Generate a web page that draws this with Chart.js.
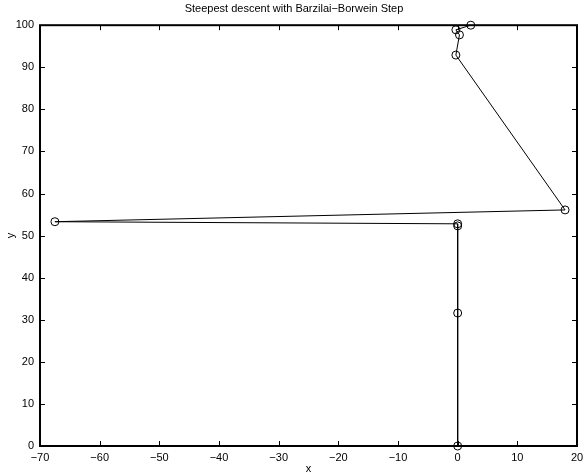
<!DOCTYPE html>
<html>
<head>
<meta charset="utf-8">
<script src="https://cdn.jsdelivr.net/npm/chart.js@4"></script>
<style>
  html, body { margin: 0; padding: 0; background: #fff; }
  #wrap { width: 584px; height: 476px; position: relative; }
</style>
</head>
<body>
<div id="wrap"><canvas id="c"></canvas></div>
<script>
// iterates of the method
const xs = [2.2, -0.3, 0.3, -0.3, 18.0, -67.5, 0.0, 0.0, 0.0, 0.0];
const ys = [100.0, 98.9, 97.7, 92.9, 56.1, 53.3, 52.8, 52.3, 31.6, 0.0];

const xTicks = [-70, -60, -50, -40, -30, -20, -10, 0, 10, 20];
const yTicks = [0, 10, 20, 30, 40, 50, 60, 70, 80, 90, 100];

const titleText = 'Steepest descent with Barzilai\u2212Borwein Step';
const fontFamily = '"Liberation Sans", Arial, Helvetica, sans-serif';

const points = xs.map((x, i) => ({ x: x, y: ys[i] }));
const fmt = v => (v < 0 ? '\u2212' + Math.abs(v) : String(v));

// matlab style box with inward ticks on all four sides
const boxPlugin = {
    id: 'box',
    afterDraw(chart) {
        const { ctx, chartArea: a, scales } = chart;
        const len = 5;
        ctx.save();
        ctx.strokeStyle = '#000';
        ctx.lineWidth = 1;
        ctx.beginPath();
        xTicks.forEach(t => {
            const px = Math.round(scales.x.getPixelForValue(t)) + 0.5;
            ctx.moveTo(px, a.bottom); ctx.lineTo(px, a.bottom - len);
            ctx.moveTo(px, a.top); ctx.lineTo(px, a.top + len);
        });
        yTicks.forEach(t => {
            const py = Math.round(scales.y.getPixelForValue(t)) + 0.5;
            ctx.moveTo(a.left, py); ctx.lineTo(a.left + len, py);
            ctx.moveTo(a.right, py); ctx.lineTo(a.right - len, py);
        });
        ctx.stroke();
        ctx.lineWidth = 2;
        ctx.strokeRect(a.left, a.top, a.right - a.left, a.bottom - a.top);
        ctx.restore();
    }
};

new Chart(document.getElementById('c'), {
    type: 'scatter',
    data: {
        datasets: [{
            data: points,
            showLine: true,
            borderColor: '#000',
            borderWidth: 1,
            pointRadius: 4,
            pointHoverRadius: 4,
            pointBorderColor: '#000',
            pointBackgroundColor: 'rgba(0,0,0,0)',
            pointBorderWidth: 1,
            clip: false
        }]
    },
    options: {
        responsive: true,
        maintainAspectRatio: false,
        animation: false,
        layout: { padding: { top: 0, right: 0, left: 4, bottom: 0 } },
        plugins: {
            legend: { display: false },
            tooltip: { enabled: false },
            title: {
                display: true,
                text: titleText,
                color: '#000',
                font: { family: fontFamily, size: 11, weight: 'normal' },
                padding: { top: 2, bottom: 10 }
            }
        },
        scales: {
            x: {
                type: 'linear',
                min: -70, max: 20,
                afterBuildTicks: s => { s.ticks = xTicks.map(v => ({ value: v })); },
                afterFit: s => { s.height = 30; s.paddingRight = 7; },
                grid: { display: false, drawTicks: false },
                border: { display: false },
                ticks: {
                    color: '#000',
                    padding: 5,
                    maxRotation: 0,
                    font: { family: fontFamily, size: 11 },
                    callback: v => fmt(v)
                },
                title: {
                    display: true, text: 'x', color: '#000',
                    font: { family: fontFamily, size: 11 },
                    padding: { top: 2, bottom: 0 }
                }
            },
            y: {
                type: 'linear',
                min: 0, max: 100,
                afterBuildTicks: s => { s.ticks = yTicks.map(v => ({ value: v })); },
                afterFit: s => { s.width = 36; },
                grid: { display: false, drawTicks: false },
                border: { display: false },
                ticks: {
                    color: '#000',
                    padding: 6,
                    font: { family: fontFamily, size: 11 },
                    callback: v => fmt(v)
                },
                title: {
                    display: true, text: 'y', color: '#000',
                    font: { family: fontFamily, size: 11 },
                    padding: { top: 0, bottom: 0 }
                }
            }
        }
    },
    plugins: [boxPlugin]
});
</script>
</body>
</html>
